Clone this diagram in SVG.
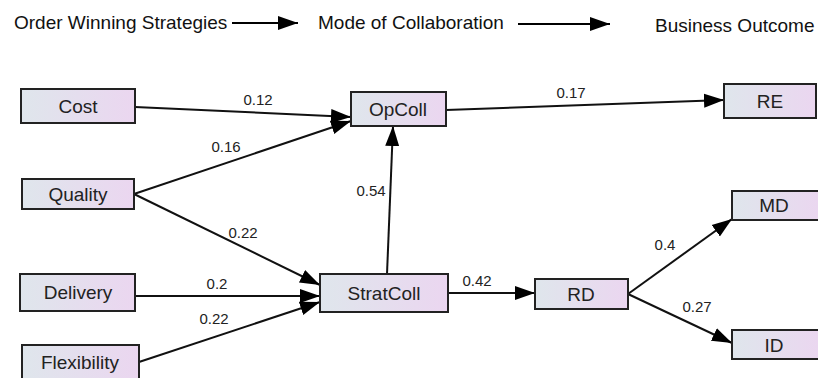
<svg xmlns="http://www.w3.org/2000/svg" width="818" height="378" viewBox="0 0 818 378">
<defs>
<linearGradient id="g" x1="0" y1="0" x2="1" y2="0">
<stop offset="0" stop-color="#dfe6ec"/>
<stop offset="1" stop-color="#ebd6f0"/>
</linearGradient>
<marker id="ahb" viewBox="0 0 10 10" refX="10" refY="5" markerWidth="10" markerHeight="10" orient="auto">
<path d="M0,1.5 L10,5 L0,8.5 z" fill="#000"/>
</marker>
</defs>
<style>
.n rect{fill:url(#g);stroke:#222;stroke-width:2}
.n text{font-family:"Liberation Sans",Arial,sans-serif;font-size:19px;fill:#222;text-anchor:middle}
.h{font-family:"Liberation Sans",Arial,sans-serif;font-size:19px;fill:#111}
.e line{stroke:#111;stroke-width:2;marker-end:url(#ahb)}
.l{font-family:"Liberation Sans",Arial,sans-serif;font-size:15px;fill:#222;text-anchor:middle}
.ha{stroke:#000;stroke-width:2;marker-end:url(#ahb)}
</style>
<g id="header">
<text class="h" x="14" y="29">Order Winning Strategies</text>
<line class="ha" x1="232" y1="23" x2="298" y2="23"/>
<text class="h" x="318" y="29">Mode of Collaboration</text>
<line class="ha" x1="518" y1="24" x2="610" y2="24"/>
<text class="h" x="655" y="32">Business Outcome</text>
</g>
<g id="connectors" class="e">
<line x1="135" y1="107" x2="351" y2="117"/>
<line x1="134" y1="194" x2="351" y2="121"/>
<line x1="134" y1="194" x2="320" y2="285"/>
<line x1="135" y1="296" x2="320" y2="296"/>
<line x1="139" y1="362" x2="320" y2="302"/>
<line x1="387" y1="274" x2="393" y2="126"/>
<line x1="446" y1="110" x2="724" y2="100"/>
<line x1="448" y1="293" x2="535" y2="293"/>
<line x1="628" y1="294" x2="732" y2="219"/>
<line x1="628" y1="294" x2="732" y2="343"/>
</g>
<g id="labels">
<text class="l" x="258" y="105">0.12</text>
<text class="l" x="226" y="152">0.16</text>
<text class="l" x="243" y="238">0.22</text>
<text class="l" x="217" y="289">0.2</text>
<text class="l" x="214" y="324">0.22</text>
<text class="l" x="371" y="196">0.54</text>
<text class="l" x="571" y="98">0.17</text>
<text class="l" x="477" y="286">0.42</text>
<text class="l" x="665" y="250">0.4</text>
<text class="l" x="697" y="312">0.27</text>
</g>
<g id="cost" class="n"><rect x="21" y="89" width="114" height="34"/><text x="78" y="113">Cost</text></g>
<g id="quality" class="n"><rect x="22" y="179" width="112" height="30"/><text x="78" y="201">Quality</text></g>
<g id="delivery" class="n"><rect x="20" y="274" width="115" height="37"/><text x="78" y="299">Delivery</text></g>
<g id="flexibility" class="n"><rect x="22" y="345" width="117" height="40"/><text x="80" y="369">Flexibility</text></g>
<g id="opcoll" class="n"><rect x="351" y="92" width="95" height="34"/><text x="398" y="116">OpColl</text></g>
<g id="stratcoll" class="n"><rect x="320" y="274" width="128" height="38"/><text x="384" y="300">StratColl</text></g>
<g id="rd" class="n"><rect x="535" y="279" width="93" height="30"/><text x="581" y="301">RD</text></g>
<g id="re" class="n"><rect x="724" y="84" width="92" height="34"/><text x="770" y="108">RE</text></g>
<g id="md" class="n"><rect x="732" y="191" width="90" height="29"/><text x="774" y="212">MD</text></g>
<g id="id" class="n"><rect x="732" y="330" width="90" height="29"/><text x="774" y="352">ID</text></g>
</svg>
